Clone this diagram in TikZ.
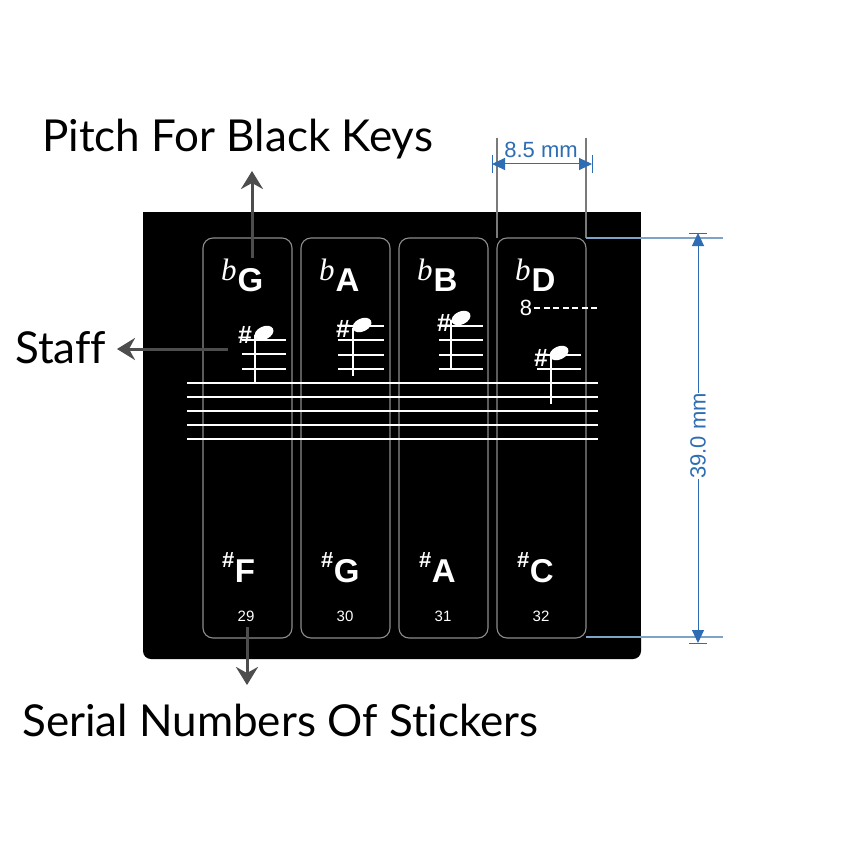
\documentclass[tikz,border=0pt]{standalone}
\usepackage{fontspec}
\setmainfont{Liberation Sans}
\newfontfamily\annfont[Ligatures=NoCommon]{Lato}
\newfontfamily\flatfont{Liberation Serif}
\usetikzlibrary{arrows.meta,shapes.geometric}
\definecolor{dimblue}{HTML}{2E6DB4}
\definecolor{annotgray}{HTML}{4D4D4D}
\definecolor{keyline}{HTML}{8C8C8C}
\definecolor{extblue}{HTML}{7FA3C6}
\definecolor{extgray}{HTML}{7A7A7A}
\newcommand{\flt}{\raisebox{11pt}{\flatfont\mdseries\itshape\fontsize{31}{31}\selectfont b}\kern1pt}
\newcommand{\shp}{\raisebox{15pt}{\fontsize{22}{22}\selectfont\bfseries\#}\kern0.5pt}
\begin{document}
\begin{tikzpicture}[x=1pt,y=-1pt,
  annot/.style={draw=annotgray, line width=3pt, -{Stealth[length=18pt,width=22pt,inset=6pt]}},
  anntext/.style={font=\annfont\fontsize{44}{48}\selectfont, text=black, inner sep=0pt},
  keybox/.style={draw=keyline, line width=1.1pt, rounded corners=10pt},
  keyname/.style={font=\fontsize{33}{36}\selectfont\bfseries, text=white, inner sep=0pt, anchor=base west},
  serial/.style={font=\fontsize{15}{16}\selectfont, text=white, inner sep=0pt, anchor=base},
  staffline/.style={draw=white, line width=1.8pt},
  ledger/.style={draw=white, line width=1.8pt},
  stem/.style={draw=white, line width=1.8pt},
  notehead/.style={ellipse, fill=white, minimum width=20pt, minimum height=13pt, inner sep=0pt, rotate=25},
  sharp/.style={font=\fontsize{25}{25}\selectfont\bfseries, text=white, inner sep=0pt},
  dim/.style={draw=dimblue, line width=1pt},
  dimarr/.style={dim, {Triangle[length=13pt,width=12pt]}-{Triangle[length=13pt,width=12pt]}},
  dimtext/.style={font=\fontsize{22}{23}\selectfont, text=dimblue, inner sep=0pt},
]
\useasboundingbox (0,0) rectangle (842,842);
\fill[white] (0,0) rectangle (842,842);

% black panel
\fill[black] (143,212) rectangle (641,645);
\fill[black, rounded corners=8pt] (143,630) rectangle (641,659);

% sticker outlines
\foreach \i/\x in {1/203,2/301,3/399,4/497}{
  \draw[keybox] (\x,238) rectangle (\x+89,638);
}

% staff lines
\foreach \y in {383,397,411,425,439}{
  \draw[staffline] (187,\y) -- (598,\y);
}

% top key names
\node[keyname] (tG) at (221,291) {\flt G};
\node[keyname] (tA) at (319,291) {\flt A};
\node[keyname] (tB) at (417,291) {\flt B};
\node[keyname] (tD) at (515,291) {\flt D};

% bottom key names
\node[keyname] (bF) at (222,582) {\shp F};
\node[keyname] (bG) at (321,582) {\shp G};
\node[keyname] (bA) at (419,582) {\shp A};
\node[keyname] (bC) at (517,582) {\shp C};

% serial numbers
\node[serial] (n29) at (246,621) {29};
\node[serial] (n30) at (345,621) {30};
\node[serial] (n31) at (443,621) {31};
\node[serial] (n32) at (541,621) {32};

% sticker 1 notes
\foreach \y in {340,354,369}{\draw[ledger] (242,\y) -- (286,\y);}
\draw[stem] (255,335) -- (255,383);
\node[notehead] (h1) at (264,333) {};
\node[sharp] (s1) at (245,335) {\#};

% sticker 2
\foreach \y in {326,340,355,369}{\draw[ledger] (338,\y) -- (384,\y);}
\draw[stem] (353,328) -- (353,376);
\node[notehead] (h2) at (362,325) {};
\node[sharp] (s2) at (343,329) {\#};

% sticker 3
\foreach \y in {326,340,355,369}{\draw[ledger] (439,\y) -- (483,\y);}
\draw[stem] (451,320) -- (451,370);
\node[notehead] (h3) at (461,318) {};
\node[sharp] (s3) at (444,323) {\#};

% sticker 4
\node[font=\fontsize{22}{23}\selectfont, text=white, inner sep=0pt] (oct) at (526,308) {8};
\draw[white, line width=1.3pt, dash pattern=on 6pt off 3.5pt] (oct.east) ++(2,0) -- (597,308);
\foreach \y in {355,369}{\draw[ledger] (537,\y) -- (581,\y);}
\draw[stem] (551,356) -- (551,404);
\node[notehead] (h4) at (559,353) {};
\node[sharp] (s4) at (541,358) {\#};

% dimension 8.5 mm
\draw[extgray, line width=1.1pt] (497,138) -- (497,238);
\draw[extgray, line width=1.1pt] (586,138) -- (586,238);
\draw[dim] (492,155) -- (492,173);
\draw[dim] (592,155) -- (592,173);
\coordinate (hl) at (492,164);
\coordinate (hr) at (592,164);
\draw[dimarr] (hl) -- (hr);
\node[dimtext] (w85) at (541,150) {8.5 mm};

% dimension 39.0 mm
\draw[extblue, line width=1.1pt] (586,238) -- (723,238);
\draw[extblue, line width=1.1pt] (586,637) -- (723,637);
\draw[dim] (689,233) -- (707,233);
\draw[dim] (689,643) -- (707,643);
\node[dimtext, rotate=90] (h39) at (698,436) {39.0 mm};
\coordinate (vt) at (698,233);
\coordinate (vb) at (698,643);
\draw[dim, {Triangle[length=13pt,width=12pt]}-] (vt) -- (h39.east);
\draw[dim, -{Triangle[length=13pt,width=12pt]}] (h39.west) -- (vb);

% annotations
\node[anntext, anchor=base west] (pitch) at (42,152) {Pitch For Black Keys};
\node[anntext, anchor=base west] (staff) at (15,363) {Staff};
\node[anntext, anchor=base west] (serialtxt) at (22,736) {Serial Numbers Of Stickers};

\coordinate (pfrom) at (252,258);
\coordinate (pto) at (252,171);
\draw[annot] (pfrom) -- (pto);
\coordinate (sfrom) at (228,349);
\coordinate (sto) at (117,349);
\draw[annot] (sfrom) -- (sto);
\coordinate (nfrom) at (247,627);
\coordinate (nto) at (247,685);
\draw[annot] (nfrom) -- (nto);
\end{tikzpicture}
\end{document}
